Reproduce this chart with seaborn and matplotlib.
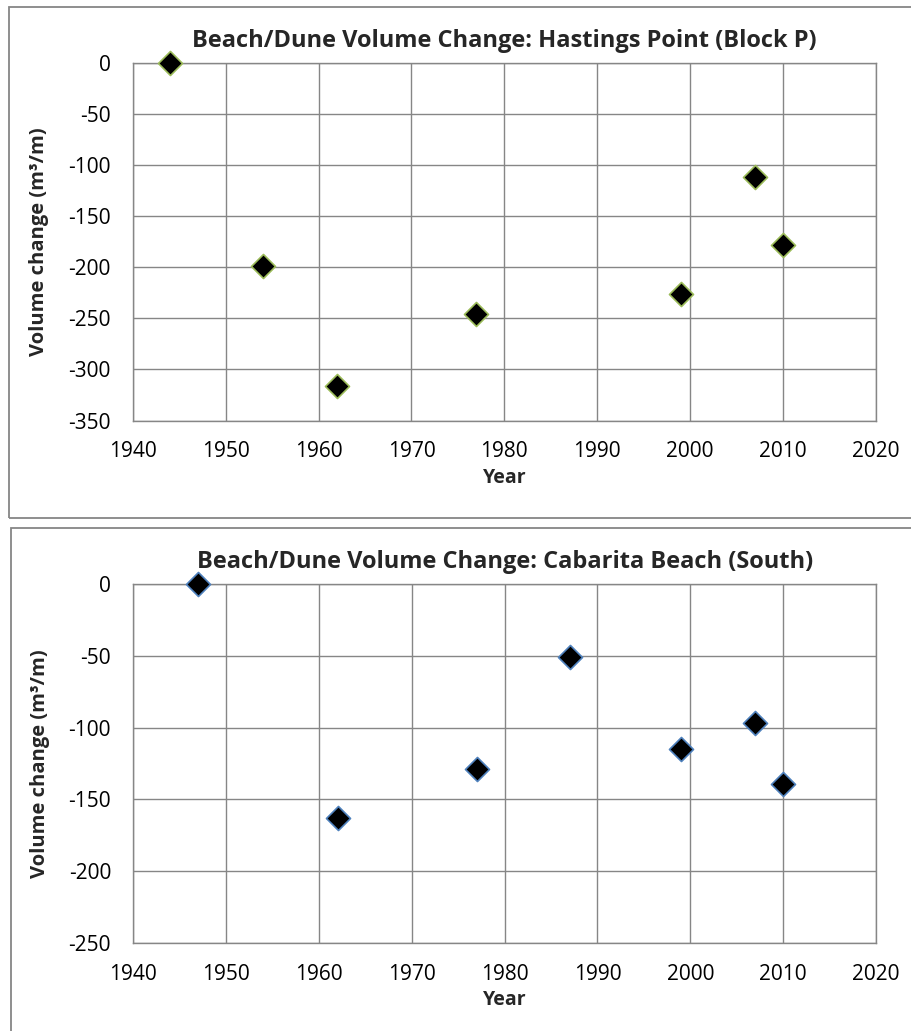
import matplotlib
matplotlib.use("Agg")
import matplotlib.pyplot as plt
import seaborn as sns
import pandas as pd
from matplotlib.patches import Rectangle

# ---- data ----
hastings_year = [1944, 1954, 1962, 1977, 1999, 2007, 2010]
hastings_vol = [0, -199, -316, -246, -226, -111, -178]

cabarita_year = [1947, 1962, 1977, 1987, 1999, 2007, 2010]
cabarita_vol = [0, -163, -129, -51, -115, -97, -139]

x_ticks = [1940, 1950, 1960, 1970, 1980, 1990, 2000, 2010, 2020]
top_yticks = [0, -50, -100, -150, -200, -250, -300, -350]
bot_yticks = [0, -50, -100, -150, -200, -250]

sns.set_theme(style="white")
plt.rcParams['font.family'] = ['Open Sans', 'DejaVu Sans']
plt.rcParams['axes.unicode_minus'] = False

grid_col = '#868686'
W, H = 912, 1031
fig = plt.figure(figsize=(W / 100, H / 100), dpi=100)


def px_axes(left, top, right, bottom):
    return fig.add_axes([left / W, 1 - bottom / H, (right - left) / W, (bottom - top) / H])


def style_panel(ax, title, yticks):
    ax.set_xlim(1940, 2020)
    ax.set_ylim(yticks[-1], 0)
    ax.set_xticks(x_ticks)
    ax.set_yticks(yticks)
    ax.grid(True, color=grid_col, linewidth=1.0)
    for s in ax.spines.values():
        s.set_color(grid_col)
        s.set_linewidth(1.0)
    ax.tick_params(axis='both', length=0, labelsize=15, colors='black')
    ax.tick_params(axis='x', pad=15)
    ax.tick_params(axis='y', pad=16)
    ax.set_title(title, fontsize=17, fontweight='bold', pad=12)
    ax.set_xlabel('Year', fontsize=14, fontweight='bold')
    ax.set_ylabel('Volume change (m³/m)', fontsize=14.5, fontweight='bold')
    ax.xaxis.set_label_coords(0.5, -0.132)
    ax.yaxis.set_label_coords(-0.112, 0.5)
    ax.set_axisbelow(True)


# outer chart borders (Excel chart frames)
fig.add_artist(Rectangle((9 / W, 1 - 518 / H), 1.0, (518 - 7) / H, transform=fig.transFigure,
                         fill=False, edgecolor=grid_col, linewidth=1.3))
fig.add_artist(Rectangle((11 / W, 1 - 1040 / H), 1.0, (1040 - 528) / H, transform=fig.transFigure,
                         fill=False, edgecolor=grid_col, linewidth=1.3))

# top panel
ax1 = px_axes(132.7, 63.3, 876, 420.5)
df1 = pd.DataFrame({'Year': hastings_year, 'Volume': hastings_vol})
sns.scatterplot(data=df1, x='Year', y='Volume', ax=ax1, marker='D', s=150,
                color='black', edgecolor='#9BBB59', linewidth=1.2, clip_on=False, zorder=3)
style_panel(ax1, 'Beach/Dune Volume Change: Hastings Point (Block P)', top_yticks)

# bottom panel
ax2 = px_axes(133.3, 584.3, 876, 942.7)
df2 = pd.DataFrame({'Year': cabarita_year, 'Volume': cabarita_vol})
sns.scatterplot(data=df2, x='Year', y='Volume', ax=ax2, marker='D', s=150,
                color='black', edgecolor='#4F81BD', linewidth=1.2, clip_on=False, zorder=3)
style_panel(ax2, 'Beach/Dune Volume Change: Cabarita Beach (South)', bot_yticks)

fig.savefig('out.png', dpi=100)
